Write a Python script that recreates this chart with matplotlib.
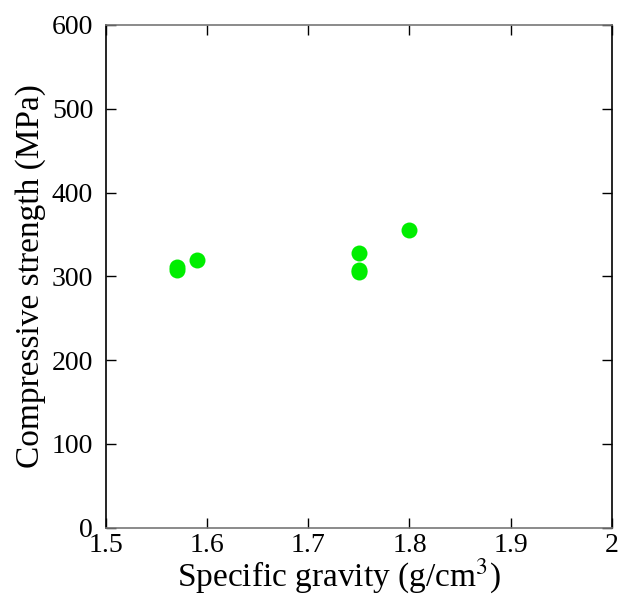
import matplotlib
matplotlib.use('Agg')
from matplotlib import pyplot as plt

# specific gravity vs compressive strength
gravity = [1.57, 1.57, 1.59, 1.75, 1.75, 1.75, 1.80]
strength = [307, 311, 320, 328, 305, 307, 355]

plt.rcParams['font.family'] = ['Liberation Serif', 'DejaVu Serif']
plt.rcParams['mathtext.fontset'] = 'stix'

fig = plt.figure(figsize=(6.34, 5.98), dpi=100)
ax = fig.add_axes([0.1667, 0.1176, 0.7986, 0.8406])

ax.plot(gravity, strength, 'o', color='#00ee00', markersize=11.5, markeredgewidth=0)

ax.set_xlim(1.5, 2)
ax.set_ylim(0, 600)
ax.set_xticks([1.5, 1.6, 1.7, 1.8, 1.9, 2])
ax.set_xticklabels(['1.5', '1.6', '1.7', '1.8', '1.9', '2'])
ax.set_yticks(range(0, 601, 100))
ax.tick_params(axis='both', direction='in', top=True, right=True,
               length=7, width=1, labelsize=20)
ax.tick_params(axis='y', pad=9)
ax.tick_params(axis='x', pad=4)
for s in ['top', 'bottom']:
    ax.spines[s].set_color('#777777')
for s in ax.spines.values():
    s.set_linewidth(1.2)

ax.set_xlabel('Specific gravity (g/cm$^3$)', fontsize=24)
ax.xaxis.set_label_coords(0.461, -0.058)
ax.set_ylabel('Compressive strength (MPa)', fontsize=24, labelpad=4)

plt.savefig('out.png', dpi=100)
